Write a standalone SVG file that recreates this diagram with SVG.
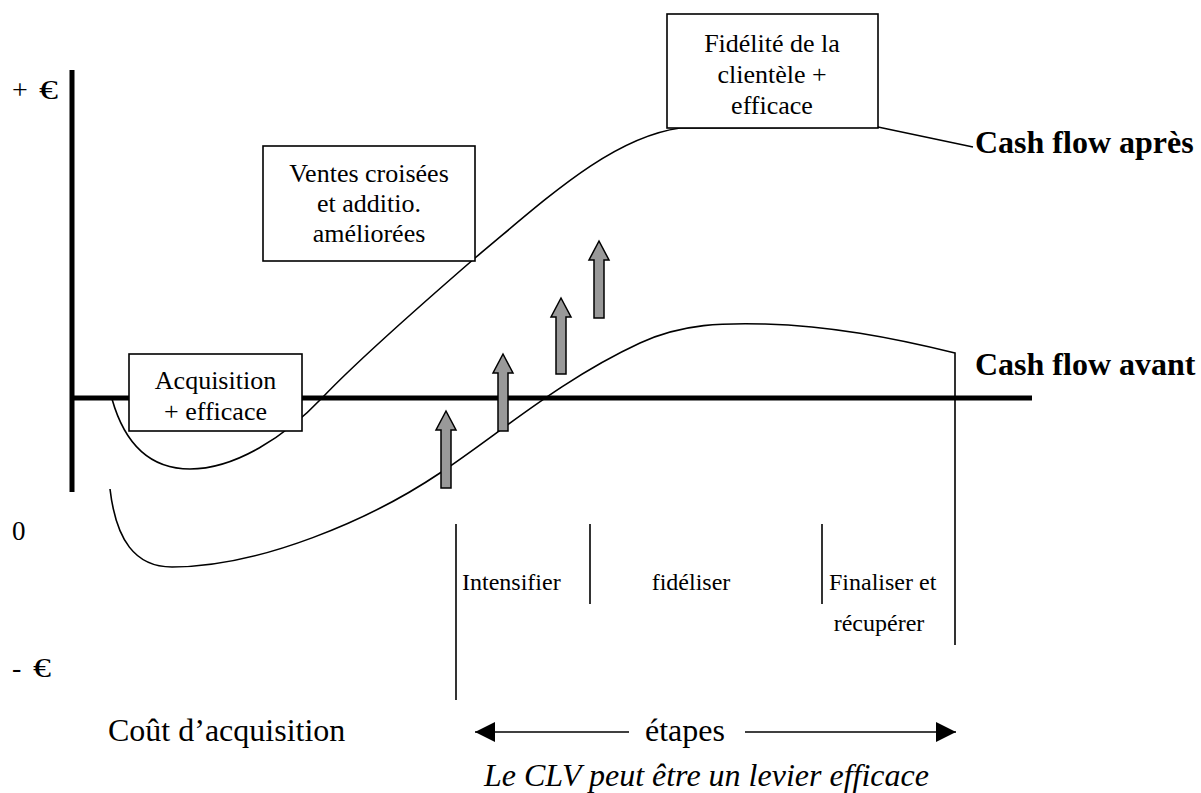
<svg xmlns="http://www.w3.org/2000/svg" width="1201" height="793" viewBox="0 0 1201 793">
  <style>
    text { font-family: "Liberation Serif", "Times New Roman", serif; fill: #000; }
    .box { fill: #fff; stroke: #000; stroke-width: 1.6; }
    .lbl { font-size: 26px; text-anchor: middle; }
    .stage { font-size: 24px; }
    .big { font-size: 32px; }
    .axlbl { font-size: 28px; }
    .bold { font-size: 32px; font-weight: bold; }
    .axis { stroke: #000; stroke-width: 5; fill: none; }
    .curve { stroke: #000; stroke-width: 1.6; fill: none; }
    .tick { stroke: #000; stroke-width: 1.6; }
    .up { fill: #999; stroke: #000; stroke-width: 1.5; stroke-linejoin: miter; }
  </style>
  <defs>
    <marker id="tri" viewBox="0 0 20 20" refX="20" refY="10" markerWidth="20" markerHeight="20" markerUnits="userSpaceOnUse" orient="auto-start-reverse">
      <path d="M0,0 L20,10 L0,20 Z" fill="#000"/>
    </marker>
  </defs>

  <rect width="1201" height="793" fill="#fff"/>

  <!-- axes and their value labels -->
  <g id="axes">
    <line class="axis" x1="72" y1="70" x2="72" y2="492"/>
    <line class="axis" x1="70" y1="398" x2="1032" y2="398"/>
    <text class="axlbl" x="12" y="99">+</text>
    <text class="axlbl" x="39" y="99" textLength="19" lengthAdjust="spacingAndGlyphs">€</text>
    <text class="axlbl" x="12" y="540" style="font-size:27px">0</text>
    <text class="axlbl" x="12" y="677">-</text>
    <text class="axlbl" x="33" y="677" textLength="18" lengthAdjust="spacingAndGlyphs">€</text>
  </g>

  <!-- connectors: cash flow curves, stage dividers, improvement arrows -->
  <g id="connectors">
    <path class="curve" d="M112,399 C125,445 150,469 190,469 C235,469 285,437 323,397 C360,358 430,297 475,258 C545,200 610,138 680,128 L878,127 L973,147"/>
    <path class="curve" d="M110,489 C116,540 135,567 172,567 C260,567 370,520 440,473 C500,433 560,380 640,343 C683,323 725,323 765,324 C830,326 890,337 955,353 L955,645"/>
    <line class="tick" x1="456" y1="524" x2="456" y2="700"/>
    <line class="tick" x1="590" y1="524" x2="590" y2="604"/>
    <line class="tick" x1="822" y1="524" x2="822" y2="604"/>
    <polygon class="up" points="446,411 456,430 451,430 451,488 441,488 441,430 436,430"/>
    <polygon class="up" points="503,354 513,373 508,373 508,431 498,431 498,373 493,373"/>
    <polygon class="up" points="561,298 571,317 566,317 566,374 556,374 556,317 551,317"/>
    <polygon class="up" points="599,241 609,260 604,260 604,318 594,318 594,260 589,260"/>
    <line class="tick" x1="629" y1="732" x2="475" y2="732" marker-end="url(#tri)"/>
    <line class="tick" x1="745" y1="732" x2="956" y2="732" marker-end="url(#tri)"/>
  </g>

  <g id="acquisition">
    <rect class="box" x="129" y="354" width="173" height="77"/>
    <text class="lbl" x="215.5" y="389">Acquisition</text>
    <text class="lbl" x="215.5" y="420">+ efficace</text>
  </g>

  <g id="ventes">
    <rect class="box" x="263" y="146" width="212" height="115"/>
    <text class="lbl" x="369" y="182">Ventes croisées</text>
    <text class="lbl" x="369" y="212">et additio.</text>
    <text class="lbl" x="369" y="242">améliorées</text>
  </g>

  <g id="fidelite">
    <rect class="box" x="667" y="14" width="211" height="114"/>
    <text class="lbl" x="772" y="52">Fidélité de la</text>
    <text class="lbl" x="772" y="83">clientèle +</text>
    <text class="lbl" x="772" y="114">efficace</text>
  </g>

  <g id="curve-labels">
    <text class="bold" x="975" y="153">Cash flow après</text>
    <text class="bold" x="975" y="375">Cash flow avant</text>
  </g>

  <g id="stages">
    <text class="stage" x="462" y="590">Intensifier</text>
    <text class="stage" x="691" y="590" text-anchor="middle">fidéliser</text>
    <text class="stage" x="829" y="590">Finaliser et</text>
    <text class="stage" x="879" y="631" text-anchor="middle">récupérer</text>
  </g>

  <g id="footer">
    <text class="big" x="108" y="741">Coût d’acquisition</text>
    <text class="big" x="685" y="741" text-anchor="middle">étapes</text>
    <text class="big" x="484" y="786" font-style="italic">Le CLV peut être un levier efficace</text>
  </g>
</svg>
